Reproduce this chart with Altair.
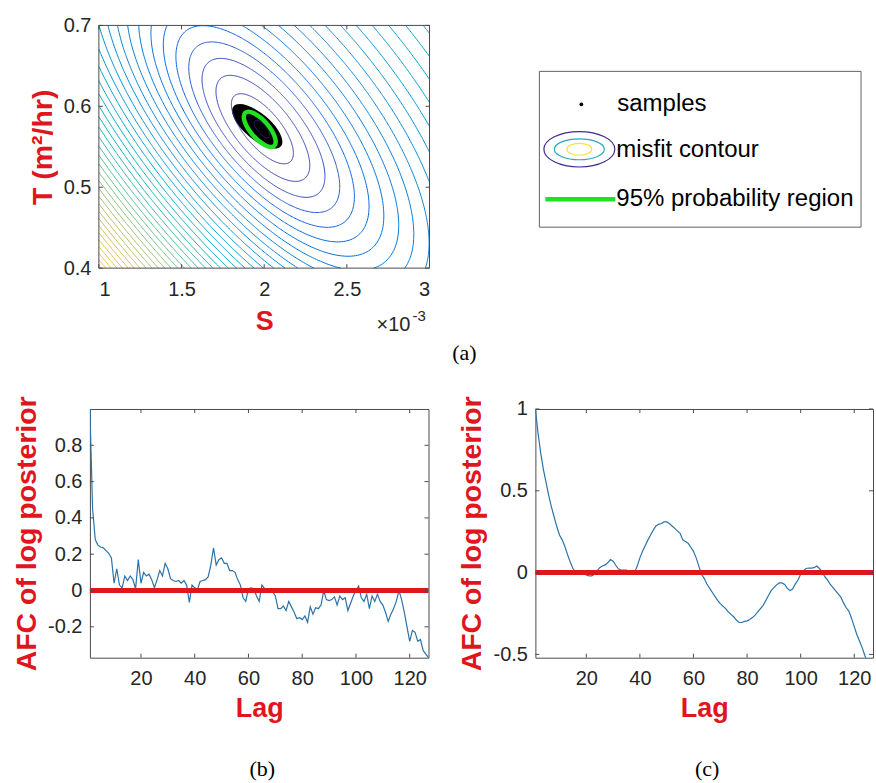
import numpy as np
import pandas as pd
import altair as alt

FONT = "Liberation Sans"
SERIF = "Liberation Serif"
RED = "#e0151d"
INK = "#262626"
FRAME = "#4a4a4a"
ACF_BLUE = "#2a73a8"
GREEN = "#22e022"

# plot-area sizes (px)
A_W, A_H = 331, 243
A_SHIFT = 9                      # (a) sits a little to the right of (b)
B_W, C_W, BC_H = 339, 338, 249

# ---------------- (a) misfit surface over S and T ----------------
S_DOMAIN = [1.0, 3.0]          # S in units of 1e-3
T_DOMAIN = [0.4, 0.7]          # T in m^2/hr
S_TICKS = [1, 1.5, 2, 2.5, 3]
T_TICKS = [0.4, 0.5, 0.6, 0.7]

BEST_FIT = [1.985, 0.5716]     # minimum of the misfit (S, T)
VALLEY_ANGLE_DEG = -50.0       # direction of the long axis of the valley
VALLEY_AXES_PX = [18.0, 7.5]   # spread per misfit unit along long / short axis
MISFIT_FLOOR = 2.117
MISFIT_TILT = [0.00115, 0.00096]
CONTOUR_LEVELS = [round(2.2 + k, 2) for k in range(46)]
COLOR_TOP = 1.1                # colour limit relative to the misfit in the low-S, low-T corner

SAMPLES_CENTER = [1.958, 0.5753]
REGION95_CENTER = [1.973, 0.5716]

PARULA = ["#352a87", "#0363e1", "#1485d4", "#06a7c6", "#38b99e",
          "#92bf73", "#d9ba56", "#fcce2e", "#f9fb0e"]

# ---------------- (b), (c) autocorrelation of the log posterior ----------------
LAGS = list(range(1, 128))
AFC_B = [1.0, 0.45, 0.28, 0.25, 0.24, 0.235, 0.22, 0.205, 0.18, 0.04,
         0.12, 0.03, 0.015, 0.08, 0.055, 0.08, 0.06, 0.01, 0.17, 0.04,
         0.10, 0.08, 0.09, 0.06, 0.015, 0.06, 0.11, 0.08, 0.15, 0.12,
         0.065, 0.055, 0.05, 0.055, 0.04, 0.055, 0.03, -0.065, 0.03, 0.015,
         0.005, 0.05, 0.055, 0.06, 0.075, 0.14, 0.235, 0.14, 0.17, 0.18,
         0.15, 0.15, 0.11, 0.11, 0.10, 0.06, 0.03, -0.04, -0.06, 0.01,
         0.015, 0.01, -0.03, -0.06, 0.03, 0.01, 0.005, 0.0, -0.005, -0.03,
         -0.10, -0.10, -0.085, -0.11, -0.06, -0.09, -0.12, -0.155, -0.15, -0.16,
         -0.14, -0.175, -0.09, -0.13, -0.095, -0.10, -0.08, 0.0, -0.05, -0.055,
         -0.05, -0.035, -0.08, -0.03, -0.05, -0.04, -0.11, -0.07, -0.03, 0.0,
         0.025, -0.04, -0.06, -0.02, -0.10, -0.03, -0.06, -0.02, -0.06, -0.08,
         -0.12, -0.17, -0.13, -0.10, -0.06, 0.0, -0.05, -0.12, -0.20, -0.28,
         -0.22, -0.23, -0.28, -0.27, -0.33, -0.35, -0.37]
AFC_C = [1.00, 0.85, 0.73, 0.63, 0.55, 0.47, 0.40, 0.34, 0.28, 0.23,
         0.20, 0.16, 0.11, 0.065, 0.025, 0.005, -0.002, -0.005, -0.008, -0.014,
         -0.02, -0.02, -0.01, 0.01, 0.03, 0.04, 0.047, 0.06, 0.08, 0.07,
         0.045, 0.022, 0.016, 0.016, 0.015, 0.01, 0.005, 0.0, 0.04, 0.09,
         0.13, 0.165, 0.20, 0.23, 0.26, 0.285, 0.295, 0.30, 0.31, 0.31,
         0.30, 0.285, 0.27, 0.255, 0.24, 0.20, 0.19, 0.18, 0.155, 0.13,
         0.09, 0.04, -0.01, -0.035, -0.07, -0.095, -0.12, -0.145, -0.17, -0.19,
         -0.205, -0.22, -0.24, -0.255, -0.27, -0.29, -0.305, -0.305, -0.298, -0.295,
         -0.287, -0.275, -0.26, -0.24, -0.22, -0.20, -0.17, -0.14, -0.11, -0.092,
         -0.075, -0.063, -0.063, -0.072, -0.095, -0.11, -0.10, -0.07, -0.045, -0.01,
         0.01, 0.025, 0.028, 0.027, 0.03, 0.04, 0.025, 0.005, -0.025, -0.045,
         -0.07, -0.09, -0.11, -0.13, -0.15, -0.185, -0.215, -0.235, -0.28, -0.33,
         -0.38, -0.42, -0.46, -0.51, -0.55, -0.59, -0.63]
LAG_DOMAIN = [1, 127]
LAG_TICKS = [20, 40, 60, 80, 100, 120]
AFC_B_DOMAIN = [-0.37, 1.0]
AFC_B_TICKS = [-0.2, 0, 0.2, 0.4, 0.6, 0.8]
AFC_C_DOMAIN = [-0.52, 1.0]
AFC_C_TICKS = [-0.5, 0, 0.5, 1]


# ---------------- contour lines of the misfit ----------------
px_per_S = A_W / (S_DOMAIN[1] - S_DOMAIN[0])
px_per_T = A_H / (T_DOMAIN[1] - T_DOMAIN[0])
_ang = np.deg2rad(VALLEY_ANGLE_DEG)
_e1 = np.array([np.cos(_ang), np.sin(_ang)])
_e2 = np.array([-np.sin(_ang), np.cos(_ang)])


def misfit(X, Y):
    a1 = X * _e1[0] + Y * _e1[1]
    a2 = X * _e2[0] + Y * _e2[1]
    q = (a1 / VALLEY_AXES_PX[0]) ** 2 + (a2 / VALLEY_AXES_PX[1]) ** 2
    return np.sqrt(MISFIT_FLOOR ** 2 + q) * np.exp(-(MISFIT_TILT[0] * X + MISFIT_TILT[1] * Y))


def clip_polyline(xs, ys, box):
    """Clip a polyline (NaN = gap) to an axis-aligned box; returns the visible pieces."""
    x0, x1, y0, y1 = box
    pieces, cur = [], []

    def close():
        nonlocal cur
        if len(cur) >= 2:
            pieces.append(cur)
        cur = []

    for j in range(len(xs) - 1):
        ax_, ay_, bx_, by_ = xs[j], ys[j], xs[j + 1], ys[j + 1]
        if np.isnan(ax_) or np.isnan(bx_):
            close()
            continue
        dx, dy = bx_ - ax_, by_ - ay_
        t0, t1, ok = 0.0, 1.0, True
        for p, q in ((-dx, ax_ - x0), (dx, x1 - ax_), (-dy, ay_ - y0), (dy, y1 - ay_)):
            if p == 0:
                if q < 0:
                    ok = False
                    break
            else:
                r = q / p
                if p < 0:
                    if r > t1:
                        ok = False
                        break
                    t0 = max(t0, r)
                else:
                    if r < t0:
                        ok = False
                        break
                    t1 = min(t1, r)
        if not ok:
            close()
            continue
        sx_, sy_ = ax_ + t0 * dx, ay_ + t0 * dy
        ex_, ey_ = ax_ + t1 * dx, ay_ + t1 * dy
        if cur and (abs(cur[-1][0] - sx_) > 1e-9 or abs(cur[-1][1] - sy_) > 1e-9):
            close()
        if not cur:
            cur.append((sx_, sy_))
        cur.append((ex_, ey_))
        if t1 < 1.0:
            close()
    close()
    return pieces


def contour_table():
    levels = np.array(CONTOUR_LEVELS)
    theta = np.linspace(0, 2 * np.pi, 601)
    radius = np.linspace(0, 650, 6501)
    R = np.full((len(levels), len(theta)), np.nan)
    for j, t in enumerate(theta):
        m = misfit(radius * np.cos(t), radius * np.sin(t))
        d = np.diff(m)
        rising = np.nonzero(d > 0)[0]
        i0 = rising[0] if rising.size else 0
        falling = np.nonzero(d[i0:] <= 0)[0]
        n = i0 + falling[0] + 1 if falling.size else len(m)
        mm, rr = m[i0:n], radius[i0:n]
        ok = (levels >= mm[0]) & (levels <= mm[-1])
        R[ok, j] = np.interp(levels[ok], mm, rr)
    X = R * np.cos(theta)[None, :]
    Y = R * np.sin(theta)[None, :]
    box = ((S_DOMAIN[0] - BEST_FIT[0]) * px_per_S, (S_DOMAIN[1] - BEST_FIT[0]) * px_per_S,
           (T_DOMAIN[0] - BEST_FIT[1]) * px_per_T, (T_DOMAIN[1] - BEST_FIT[1]) * px_per_T)
    rows, seg = [], 0
    for k, lvl in enumerate(levels):
        for piece in clip_polyline(X[k], Y[k], box):
            seg += 1
            for i, (x, y) in enumerate(piece):
                rows.append((float(lvl), seg, i,
                             BEST_FIT[0] + x / px_per_S, BEST_FIT[1] + y / px_per_T))
    return pd.DataFrame(rows, columns=["level", "seg", "i", "S", "T"])


contour_df = contour_table()
_corner = misfit(np.array([(S_DOMAIN[0] - BEST_FIT[0]) * px_per_S]),
                 np.array([(T_DOMAIN[0] - BEST_FIT[1]) * px_per_T]))[0]
color_stops = list(np.linspace(CONTOUR_LEVELS[0], COLOR_TOP * _corner, len(PARULA)))

AXIS_STYLE = dict(grid=False, ticks=False, domain=False,
                  labelFont=FONT, labelFontSize=20, labelColor=INK,
                  titleFont=FONT, titleFontWeight="bold",
                  titleColor=RED, labelExpr="toString(datum.value)")
X_TITLE_SIZE = 27
Y_TITLE_SIZE = 28.5

one = pd.DataFrame({"k": [0]})


def ellipse_path(ratio):
    r = f"{ratio:.3f}"
    return f"M-1,0A1,{r} 0 1,1 1,0A1,{r} 0 1,1 -1,0Z"


def frame_ticks(xfield, xscale, xaxis, xvals, yfield, yscale, yaxis, yvals, x_left, x_right, h, n=4):
    xt = pd.DataFrame({xfield: xvals})
    yt = pd.DataFrame({yfield: yvals})
    layers = []
    for y0, y1 in ((h, h - n), (0, n)):
        layers.append(alt.Chart(xt).mark_rule(color=FRAME, strokeWidth=1).encode(
            x=alt.X(f"{xfield}:Q", scale=xscale, axis=xaxis),
            y=alt.value(y0), y2=alt.value(y1)))
    for x0, x1 in ((x_left, x_left + n), (x_right, x_right - n)):
        layers.append(alt.Chart(yt).mark_rule(color=FRAME, strokeWidth=1).encode(
            y=alt.Y(f"{yfield}:Q", scale=yscale, axis=yaxis),
            x=alt.value(x0), x2=alt.value(x1)))
    return layers


def label(text, x, y, size=20, font=FONT, color="black", align="left", weight="normal"):
    return alt.Chart(one).mark_text(text=text, font=font, fontSize=size, color=color,
                                    align=align, baseline="middle", fontWeight=weight).encode(
        x=alt.value(x), y=alt.value(y))


# ---------------- panel (a) ----------------
sx = alt.Scale(domain=S_DOMAIN, range=[A_SHIFT, A_SHIFT + A_W], nice=False, zero=False)
sy = alt.Scale(domain=T_DOMAIN, nice=False, zero=False)
ax_s = alt.Axis(title="S", values=S_TICKS, labelPadding=11, titlePadding=9,
                titleFontSize=X_TITLE_SIZE, **AXIS_STYLE)
ax_t = alt.Axis(title="T (m²/hr)", values=T_TICKS, labelPadding=8, titlePadding=6,
                titleFontSize=Y_TITLE_SIZE, offset=-A_SHIFT, **AXIS_STYLE)

cloud = alt.Chart(pd.DataFrame({"S": [SAMPLES_CENTER[0]], "T": [SAMPLES_CENTER[1]]})).mark_point(
    shape=ellipse_path(0.42), filled=True, color="black", opacity=1, size=62 ** 2, angle=40,
    strokeWidth=0).encode(x=alt.X("S:Q", scale=sx, axis=ax_s), y=alt.Y("T:Q", scale=sy, axis=ax_t))

contours = alt.Chart(contour_df).mark_line(strokeWidth=1).encode(
    x=alt.X("S:Q", scale=sx, axis=ax_s),
    y=alt.Y("T:Q", scale=sy, axis=ax_t),
    color=alt.Color("level:Q", scale=alt.Scale(domain=color_stops, range=PARULA), legend=None),
    detail="seg:N",
    order="i:Q",
)

region95 = alt.Chart(pd.DataFrame({"S": [REGION95_CENTER[0]], "T": [REGION95_CENTER[1]]})).mark_point(
    shape=ellipse_path(0.41), filled=False, color=GREEN, opacity=1, size=44 ** 2, angle=49,
    strokeWidth=4.5).encode(x=alt.X("S:Q", scale=sx, axis=ax_s), y=alt.Y("T:Q", scale=sy, axis=ax_t))

frame_a = alt.Chart(pd.DataFrame({"S": [S_DOMAIN[0]], "S2": [S_DOMAIN[1]],
                                  "T": [T_DOMAIN[0]], "T2": [T_DOMAIN[1]]})).mark_rect(
    fill="transparent", stroke=FRAME, strokeWidth=1).encode(
    x=alt.X("S:Q", scale=sx, axis=ax_s), x2="S2:Q",
    y=alt.Y("T:Q", scale=sy, axis=ax_t), y2="T2:Q")

panel_a = alt.layer(
    cloud, contours, region95,
    *frame_ticks("S", sx, ax_s, S_TICKS, "T", sy, ax_t, T_TICKS, A_SHIFT, A_SHIFT + A_W, A_H),
    frame_a,
    label("×10", A_SHIFT + 278, 300, 20, color=INK), label("-3", A_SHIFT + 314, 291, 15, color=INK),
    label("(a)", A_SHIFT + 366, 328, 22, font=SERIF, align="center"),
).properties(width=A_SHIFT + A_W, height=A_H, view=alt.ViewBackground(stroke="transparent"))

# ---------------- legend of (a) ----------------
legend_box = alt.Chart(one).mark_rect(fill="white", stroke="#5f5f5f", strokeWidth=1).encode(
    x=alt.value(4), x2=alt.value(326), y=alt.value(46), y2=alt.value(202))
legend_dot = alt.Chart(one).mark_point(shape="circle", filled=True, color="black", opacity=1,
                                       size=14).encode(x=alt.value(46), y=alt.value(79))
legend_rings = [
    alt.Chart(one).mark_point(shape=ellipse_path(ratio), filled=False, color=col, opacity=1,
                              size=size, strokeWidth=1.2).encode(x=alt.value(44), y=alt.value(124))
    for ratio, size, col in ((0.5, 71 ** 2, "#3b2f8f"), (0.42, 50 ** 2, "#2ba8c0"),
                             (0.48, 25 ** 2, "#f2e23a"))
]
legend_line = alt.Chart(one).mark_rule(color=GREEN, strokeWidth=4.5).encode(
    x=alt.value(10), x2=alt.value(80), y=alt.value(174))

legend_cell = alt.layer(
    legend_box, legend_dot, *legend_rings, legend_line,
    label("samples", 82, 79, 24), label("misfit contour", 81, 125, 24),
    label("95% probability region", 81, 174, 24),
).properties(width=C_W, height=A_H, view=alt.ViewBackground(stroke="transparent"))


# ---------------- panels (b) and (c) ----------------
def afc_panel(values, ydomain, yticks, width, tag):
    sxl = alt.Scale(domain=LAG_DOMAIN, nice=False, zero=False)
    syl = alt.Scale(domain=ydomain, nice=False, zero=False)
    axl = alt.Axis(title="Lag", values=LAG_TICKS, labelPadding=11, titlePadding=7,
                   titleFontSize=X_TITLE_SIZE, **AXIS_STYLE)
    aya = alt.Axis(title="AFC of log posterior", values=yticks, labelPadding=8, titlePadding=6,
                   titleFontSize=Y_TITLE_SIZE, **AXIS_STYLE)
    df = pd.DataFrame({"lag": LAGS, "afc": values})
    line = alt.Chart(df).mark_line(clip=True, color=ACF_BLUE, strokeWidth=1.2).encode(
        x=alt.X("lag:Q", scale=sxl, axis=axl), y=alt.Y("afc:Q", scale=syl, axis=aya))
    zero = alt.Chart(pd.DataFrame({"afc": [0.0]})).mark_rule(color=RED, strokeWidth=5).encode(
        y=alt.Y("afc:Q", scale=syl, axis=aya))
    return alt.layer(
        line, zero,
        *frame_ticks("lag", sxl, axl, LAG_TICKS, "afc", syl, aya, yticks, 0, width, BC_H),
        label(tag, width / 2 + 3, 360, 22, font=SERIF, align="center"),
    ).properties(width=width, height=BC_H)


panel_b = afc_panel(AFC_B, AFC_B_DOMAIN, AFC_B_TICKS, B_W, "(b)")
panel_c = afc_panel(AFC_C, AFC_C_DOMAIN, AFC_C_TICKS, C_W, "(c)")

chart = alt.concat(
    panel_a, legend_cell, panel_b, panel_c,
    columns=2, align="each", bounds="flush",
    spacing=alt.RowColnumber(row=141, column=106),
).properties(
    padding={"left": 12, "top": 14, "right": 0, "bottom": 0},
    background="white",
).configure_view(stroke=FRAME, strokeWidth=1)

chart.save("out.html", embed_options={"renderer": "svg", "actions": False})
